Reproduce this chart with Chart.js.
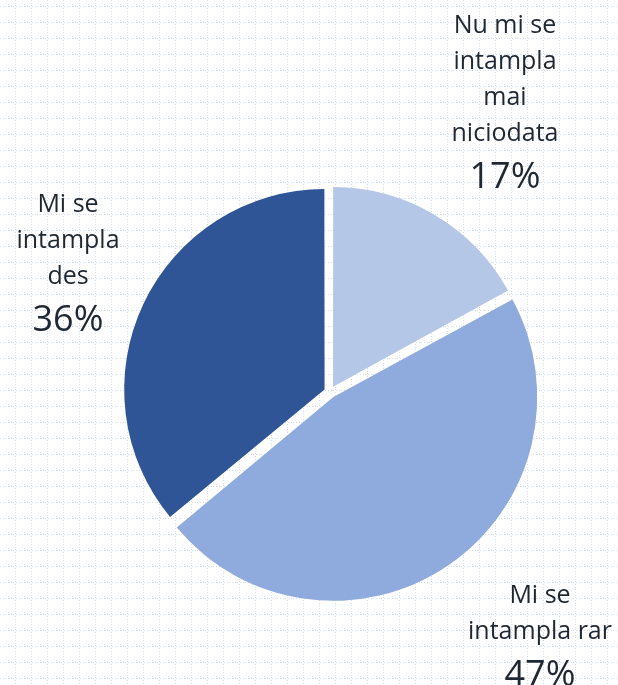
<!DOCTYPE html>
<html>
<head>
<meta charset="utf-8">
<script src="https://cdn.jsdelivr.net/npm/chart.js@4"></script>
<style>
  html, body { margin: 0; padding: 0; background: #fff; }
  #wrap { width: 618px; height: 685px; position: relative; }
</style>
</head>
<body>
<div id="wrap"><canvas id="pie" width="618" height="685"></canvas></div>
<script>
// Slices in drawing order (clockwise from 12 o'clock)
const labels = [['Nu mi se', 'intampla', 'mai', 'niciodata'], ['Mi se', 'intampla rar'], ['Mi se', 'intampla', 'des']];
const values = [17, 47, 36];
const colors = ['#b4c7e7', '#8faadc', '#2f5597'];

// where each label block sits (center x, first baseline)
const labelAnchors = [
  { x: 505, y: 33 },
  { x: 540, y: 603 },
  { x: 68, y: 212 },
];

const FONT = '"Open Sans", Lato, sans-serif';
const TEXT_COLOR = '#1f2733';

// dotted light-blue grid behind everything
const gridBg = {
  id: 'gridBg',
  beforeDraw(chart) {
    const ctx = chart.ctx;
    const W = chart.width, H = chart.height;
    ctx.save();
    ctx.fillStyle = '#fff';
    ctx.fillRect(0, 0, W, H);
    ctx.fillStyle = '#d0ddf0';
    for (let x = 15; x < W; x += 16) {
      for (let k = 0; k * 2.667 < H; k++) ctx.fillRect(x, Math.round(k * 2.667), 1, 1);
    }
    for (let y = 6; y < H; y += 16) {
      for (let k = 0; k * 2.667 < W; k++) ctx.fillRect(Math.round(k * 2.667), y, 1, 1);
    }
    ctx.restore();
  }
};

const sliceLabels = {
  id: 'sliceLabels',
  afterDraw(chart) {
    const ctx = chart.ctx;
    const total = values.reduce((a, b) => a + b, 0);
    ctx.save();
    ctx.fillStyle = TEXT_COLOR;
    ctx.textAlign = 'center';
    ctx.textBaseline = 'alphabetic';
    labels.forEach((lines, i) => {
      const a = labelAnchors[i];
      let y = a.y;
      ctx.font = '25px ' + FONT;
      lines.forEach((ln, j) => {
        if (j > 0) y += 36;
        ctx.fillText(ln, a.x, y);
      });
      y += 47;
      ctx.font = '36px ' + FONT;
      ctx.fillText(Math.round(values[i] / total * 100) + '%', a.x, y);
    });
    ctx.restore();
  }
};

new Chart(document.getElementById('pie'), {
  type: 'pie',
  data: {
    labels: labels.map(l => l.join(' ')),
    datasets: [{
      data: values,
      backgroundColor: colors,
      borderWidth: 0,
      offset: 24,
    }],
  },
  options: {
    responsive: false,
    animation: false,
    layout: { padding: { left: 119, right: 77, top: 181, bottom: 82 } },
    plugins: {
      legend: { display: false },
      tooltip: { enabled: false },
    },
  },
  plugins: [gridBg, sliceLabels],
});
</script>
</body>
</html>
